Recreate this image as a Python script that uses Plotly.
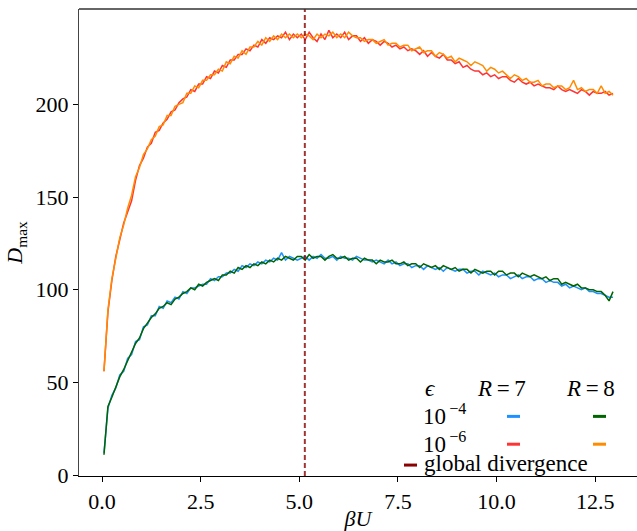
import numpy as np
import plotly.graph_objects as go

# sampling grid of beta*U
beta_u = np.round(np.linspace(0.05, 12.95, 130), 2)

# D_max, R = 7, eps = 1e-4 (blue)
r7_e4 = [12, 36, 43, 47, 54, 56, 63, 65, 72, 73, 80, 81, 86, 86, 91, 90, 94, 93, 96, 95,
         99, 98, 101, 101, 102, 103, 103, 106, 105, 107, 107, 109, 109, 111, 110, 113, 112, 114, 113, 115,
         114, 116, 115, 117, 116, 120, 116, 118, 117, 116, 117, 118, 116, 118, 117, 119, 117, 117, 118, 116,
         118, 117, 117, 116, 118, 117, 116, 116, 115, 116, 115, 114, 116, 114, 115, 113, 114, 114, 112, 113,
         113, 111, 113, 112, 111, 112, 110, 112, 111, 110, 111, 111, 109, 110, 110, 108, 110, 109, 108, 109,
         107, 108, 108, 106, 107, 108, 106, 107, 107, 105, 106, 106, 104, 105, 104, 104, 102, 103, 101, 102,
         101, 100, 101, 99, 99, 98, 98, 97, 96, 96]
# D_max, R = 8, eps = 1e-4 (green)
r8_e4 = [11, 37, 42, 48, 53, 57, 62, 66, 71, 74, 79, 82, 85, 87, 90, 91, 93, 92, 95, 96,
         98, 99, 101, 100, 103, 102, 104, 105, 106, 105, 108, 108, 110, 109, 112, 111, 113, 112, 114, 113,
         115, 114, 116, 115, 117, 116, 118, 117, 116, 118, 118, 116, 119, 117, 118, 118, 116, 118, 119, 117,
         117, 118, 116, 117, 117, 115, 117, 116, 116, 114, 116, 115, 115, 116, 114, 114, 115, 113, 114, 114,
         112, 114, 113, 112, 113, 111, 113, 112, 111, 112, 110, 111, 111, 109, 111, 110, 109, 110, 110, 108,
         110, 110, 108, 109, 109, 107, 109, 108, 107, 108, 107, 106, 107, 105, 106, 106, 103, 104, 103, 102,
         103, 101, 101, 100, 100, 99, 99, 97, 94, 99]
# D_max, R = 7, eps = 1e-6 (red)
r7_e6 = [56, 88, 105, 118, 127, 136, 142, 148, 159, 167, 171, 177, 179, 185, 186, 190, 192, 196, 197, 201,
         203, 204, 208, 207, 211, 211, 215, 214, 218, 217, 221, 220, 224, 224, 227, 227, 230, 229, 232, 231,
         235, 233, 236, 235, 237, 236, 239, 235, 238, 236, 238, 235, 239, 236, 234, 238, 235, 240, 236, 238,
         236, 239, 235, 237, 237, 234, 236, 233, 235, 234, 232, 234, 233, 231, 232, 230, 231, 229, 230, 229,
         227, 229, 226, 228, 226, 225, 227, 224, 224, 222, 223, 220, 221, 219, 218, 218, 216, 217, 215, 216,
         214, 215, 215, 213, 212, 214, 212, 211, 212, 210, 211, 210, 209, 209, 208, 210, 208, 207, 208, 207,
         206, 208, 207, 205, 207, 206, 206, 207, 205, 206]
# D_max, R = 8, eps = 1e-6 (orange)
r8_e6 = [56, 89, 106, 117, 128, 135, 144, 151, 161, 166, 173, 176, 181, 183, 188, 189, 194, 194, 199, 200,
         201, 206, 206, 210, 209, 213, 213, 216, 216, 219, 218, 223, 222, 226, 225, 229, 227, 231, 231, 234,
         232, 236, 234, 237, 235, 238, 236, 238, 236, 238, 236, 238, 237, 235, 238, 236, 238, 237, 239, 236,
         238, 236, 239, 237, 236, 236, 234, 235, 235, 233, 234, 235, 232, 233, 233, 231, 232, 232, 229, 230,
         231, 228, 229, 229, 226, 228, 227, 225, 226, 223, 225, 224, 223, 221, 223, 222, 221, 218, 220, 219,
         217, 218, 216, 214, 216, 215, 213, 214, 212, 212, 213, 210, 211, 211, 209, 210, 210, 208, 209, 213,
         208, 209, 207, 208, 208, 206, 210, 206, 207, 205]

global_div = 5.14

x_ticks = [0.0, 2.5, 5.0, 7.5, 10.0, 12.5]
x_tick_text = ["0.0", "2.5", "5.0", "7.5", "10.0", "12.5"]
y_ticks = [0, 50, 100, 150, 200]

C_BLUE = "#1E90FF"
C_GREEN = "#006400"
C_RED = "#FF3333"
C_ORANGE = "#FF8C00"
C_DIV = "rgba(139,0,0,0.8)"
FONT = "Liberation Serif"
FS = 22
LFS = 23

fig = go.Figure()
for ys, col in [(r7_e4, C_BLUE), (r7_e6, C_RED), (r8_e4, C_GREEN), (r8_e6, C_ORANGE)]:
    fig.add_trace(go.Scatter(x=beta_u, y=ys, mode="lines",
                             line=dict(color=col, width=1.5), showlegend=False))

fig.add_vline(x=global_div, line=dict(color=C_DIV, width=2, dash="5px,3px"))

# top spine
fig.add_shape(type="line", xref="paper", yref="paper", x0=0, x1=1, y0=1, y1=1,
              line=dict(color="#333", width=1.3))

# custom legend table
W, H = 637, 531
L, T, B = 79, 9, 52
pw, ph = W - L, H - T - B

def px(xp):
    return (xp - L) / pw

def py(yp):
    return (H - B - yp) / ph

def txt(x, y, s, anchor="center"):
    fig.add_annotation(xref="paper", yref="paper", x=px(x), y=py(y), text=s,
                       showarrow=False, xanchor=anchor, yanchor="middle",
                       font=dict(family=FONT, size=LFS, color="black"))

def dash(x0, x1, y, col):
    fig.add_shape(type="line", xref="paper", yref="paper", x0=px(x0), x1=px(x1),
                  y0=py(y), y1=py(y), line=dict(color=col, width=3))

txt(430, 391, "<i>ϵ</i>")
txt(501, 391, "<i>R</i>\u2009=\u20097")
txt(590, 391, "<i>R</i>\u2009=\u20098")
txt(421, 417, "10<sup>\u2009−4</sup>", anchor="left")
txt(421, 445, "10<sup>\u2009−6</sup>", anchor="left")
dash(507, 520, 419, C_BLUE)
dash(593, 606, 419, C_GREEN)
dash(507, 520, 447, C_RED)
dash(593, 606, 447, C_ORANGE)
dash(404, 417, 468, "#8B0000")
txt(422, 466, "global divergence", anchor="left")

fig.update_layout(
    width=W, height=H,
    margin=dict(l=L, r=0, t=T, b=B),
    plot_bgcolor="white", paper_bgcolor="white",
    font=dict(family=FONT, size=FS, color="black"),
    xaxis=dict(range=[-0.583, 13.558], tickvals=x_ticks, ticktext=x_tick_text,
               ticks="outside", ticklen=5, tickwidth=1.3, tickcolor="black",
               showline=True, linecolor="black", linewidth=1.3,
               showgrid=False, zeroline=False,
               title=dict(text="<i>βU</i>", font=dict(family=FONT, size=FS), standoff=2)),
    yaxis=dict(range=[-0.5, 251.5], tickvals=y_ticks,
               ticks="outside", ticklen=5, tickwidth=1.3, tickcolor="black",
               showline=True, linecolor="#444", linewidth=1.3,
               showgrid=False, zeroline=False,
               title=dict(text="<i>D</i><sub>max</sub>", font=dict(family=FONT, size=FS), standoff=6)),
)

fig.write_html("out.html")
